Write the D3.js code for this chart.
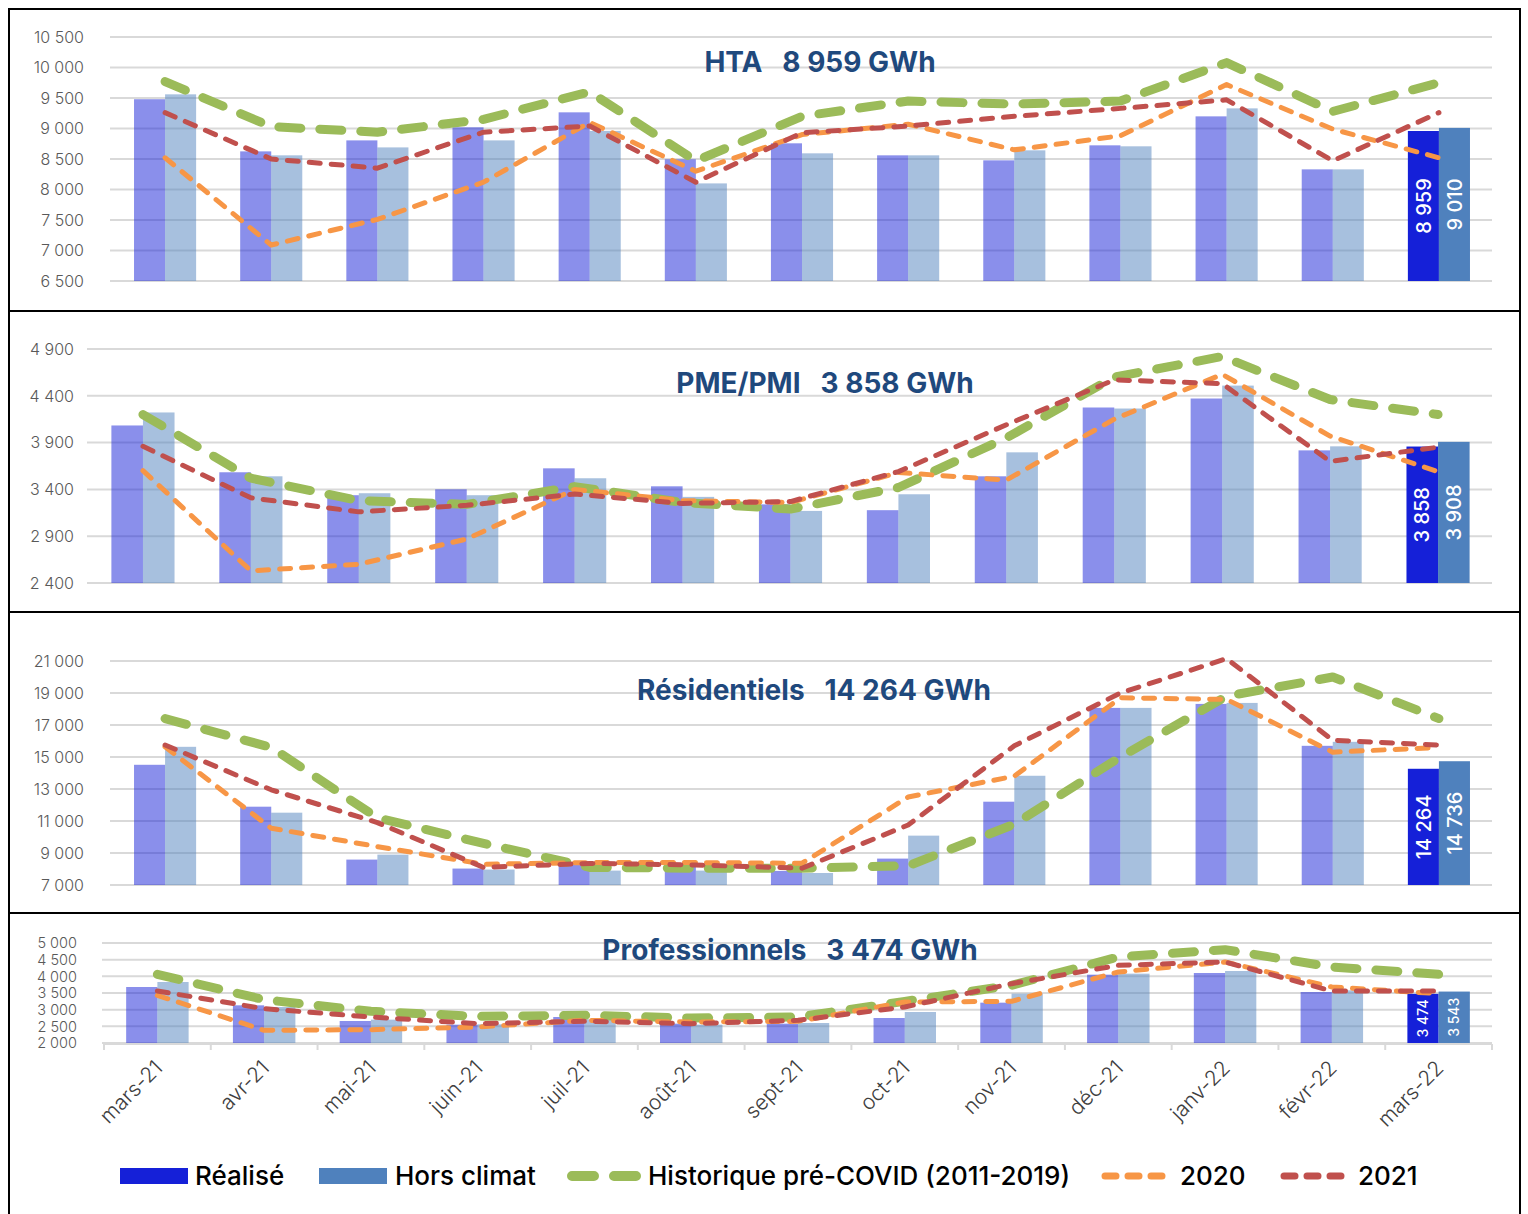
<!DOCTYPE html>
<html>
<head>
<meta charset="utf-8">
<script src="https://cdn.jsdelivr.net/npm/d3@7"></script>
<style>
  body { margin: 0; background: #fff; }
  svg { display: block; }
  text { font-family: "Inter", "Open Sans", sans-serif; }
</style>
</head>
<body>
<div id="chart"></div>
<script>
const months = ["mars-21", "avr-21", "mai-21", "juin-21", "juil-21", "août-21", "sept-21",
  "oct-21", "nov-21", "déc-21", "janv-22", "févr-22", "mars-22"];

// HTA
const htaRealise = [9480, 8625, 8805, 9020, 9265, 8495, 8757, 8560, 8478, 8724, 9199, 8330, 8959];
const htaHorsClimat = [9560, 8560, 8690, 8805, 8960, 8100, 8593, 8560, 8642, 8708, 9330, 8330, 9010];
const htaHisto = [9770, 9030, 8940, 9150, 9600, 8470, 9200, 9450, 9400, 9450, 10080, 9280, 9750];
const hta2020 = [8520, 7090, 7510, 8120, 9100, 8300, 8900, 9070, 8650, 8880, 9720, 8990, 8520];
const hta2021 = [9260, 8500, 8350, 8940, 9040, 8120, 8930, 9040, 9200, 9330, 9470, 8470, 9260];

// PME/PMI
const pmeRealise = [4083, 3583, 3338, 3401, 3625, 3433, 3240, 3178, 3540, 4275, 4371, 3817, 3858];
const pmeHorsClimat = [4222, 3540, 3359, 3338, 3519, 3320, 3170, 3348, 3796, 4264, 4509, 3860, 3908];
const pmeHisto = [4200, 3520, 3280, 3240, 3430, 3260, 3190, 3420, 3950, 4600, 4820, 4360, 4200];
const pme2020 = [3600, 2530, 2600, 2870, 3400, 3280, 3260, 3580, 3500, 4150, 4630, 3970, 3590];
const pme2021 = [3860, 3310, 3160, 3230, 3350, 3250, 3270, 3590, 4090, 4570, 4530, 3700, 3850];

// Résidentiels
const resRealise = [14513, 11894, 8588, 8027, 8250, 8200, 7880, 8650, 12206, 18069, 18318, 15699, 14264];
const resHorsClimat = [15636, 11520, 8900, 7965, 7900, 7900, 7750, 10085, 13827, 18069, 18380, 15948, 14736];
const resHisto = [17400, 15600, 11200, 9600, 8100, 8050, 8050, 8200, 10800, 15000, 18800, 20000, 17400];
const res2020 = [15636, 10550, 9400, 8300, 8400, 8400, 8360, 12500, 13800, 18700, 18600, 15300, 15600];
const res2021 = [15750, 12950, 10900, 8100, 8350, 8250, 8050, 10750, 15700, 19000, 21150, 16050, 15750];

// Professionnels
const proRealise = [3680, 3130, 2660, 2550, 2780, 2580, 2580, 2750, 3210, 4050, 4100, 3530, 3474];
const proHorsClimat = [3830, 3080, 2700, 2560, 2710, 2550, 2600, 2930, 3480, 4080, 4160, 3580, 3543];
const proHisto = [4060, 3300, 2950, 2800, 2830, 2750, 2780, 3250, 3730, 4580, 4800, 4280, 4060];
const pro2020 = [3430, 2380, 2400, 2480, 2680, 2630, 2650, 3230, 3250, 4130, 4430, 3680, 3480];
const pro2021 = [3560, 3030, 2780, 2580, 2650, 2580, 2680, 3080, 3780, 4330, 4430, 3560, 3560];

const htaTicks = d3.range(6500, 10501, 500);
const pmeTicks = [2400, 2900, 3400, 3900, 4400, 4900];
const resTicks = d3.range(7000, 21001, 2000);
const proTicks = d3.range(2000, 5001, 500);

const titles = ["HTA   8 959 GWh", "PME/PMI   3 858 GWh", "Résidentiels   14 264 GWh", "Professionnels   3 474 GWh"];
const legendNames = ["Réalisé", "Hors climat", "Historique pré-COVID (2011-2019)", "2020", "2021"];

const COLORS = {
  realise: "#1520D8",
  horsClimat: "#4F81BD",
  histo: "#9BBB59",
  y2020: "#F79646",
  y2021: "#C0504D"
};

const fr = d3.formatLocale({ decimal: ",", thousands: " ", grouping: [3], currency: ["", " €"] });
const fmt = fr.format(",d");

const width = 1528, height = 1214;
const plotRight = 1492;

const svg = d3.select("#chart").append("svg")
    .attr("width", width)
    .attr("height", height);

function makeX(left) {
  return d3.scaleBand()
      .domain(months)
      .range([left, plotRight])
      .paddingInner(0.415)
      .paddingOuter(0.2075);
}

function drawPanel(p) {
  const g = svg.append("g");
  const x = makeX(p.left);
  const xSub = d3.scaleBand()
      .domain(["realise", "horsClimat"])
      .range([0, x.bandwidth()]);

  const y = d3.scaleLinear()
      .domain([p.ticks[0], p.ticks[p.ticks.length - 1]])
      .range([p.bottom, p.top]);

  // gridlines + y labels
  g.append("g")
      .selectAll("line")
      .data(p.ticks)
      .enter()
      .append("line")
      .attr("x1", p.left - 2)
      .attr("x2", plotRight)
      .attr("y1", d => y(d))
      .attr("y2", d => y(d))
      .attr("stroke", "#D9D9D9")
      .attr("stroke-width", 2);

  g.append("g")
      .selectAll("text")
      .data(p.ticks)
      .enter()
      .append("text")
      .attr("x", p.labelX)
      .attr("y", d => y(d))
      .attr("dy", "0.36em")
      .attr("text-anchor", "end")
      .style("font-size", p.tickSize + "px")
      .style("font-weight", 300)
      .style("fill", "#595959")
      .text(d => fmt(d));

  // bars
  const rows = months.map((m, i) => ({ m, i, realise: p.realise[i], horsClimat: p.horsClimat[i] }));
  const last = months.length - 1;

  ["realise", "horsClimat"].forEach(key => {
    g.append("g")
        .selectAll("rect")
        .data(rows)
        .enter()
        .append("rect")
        .attr("x", d => x(d.m) + xSub(key))
        .attr("width", xSub.bandwidth())
        .attr("y", d => y(d[key]))
        .attr("height", d => y(p.ticks[0]) - y(d[key]))
        .attr("fill", COLORS[key])
        .attr("fill-opacity", d => d.i === last ? 1 : 0.5);
  });

  // lines
  const line = d3.line()
      .x((d, i) => x(months[i]) + x.bandwidth() / 2)
      .y(d => y(d));

  const series = [
    { values: p.histo, color: COLORS.histo, w: 9, dash: "22,19" },
    { values: p.y2020, color: COLORS.y2020, w: 5, dash: "11,11" },
    { values: p.y2021, color: COLORS.y2021, w: 5, dash: "11,11" }
  ];

  series.forEach(s => {
    g.append("path")
        .datum(s.values)
        .attr("d", line)
        .attr("fill", "none")
        .attr("stroke", s.color)
        .attr("stroke-width", s.w)
        .attr("stroke-linecap", "round")
        .attr("stroke-linejoin", "round")
        .attr("stroke-dasharray", s.dash);
  });

  // value labels on last month
  ["realise", "horsClimat"].forEach(key => {
    const v = p[key][last];
    const cx = x(months[last]) + xSub(key) + xSub.bandwidth() / 2;
    const cy = (y(v) + y(p.ticks[0])) / 2;
    g.append("text")
        .attr("transform", `translate(${cx},${cy}) rotate(-90)`)
        .attr("text-anchor", "middle")
        .attr("dy", "0.36em")
        .style("font-size", p.labelSize + "px")
        .style("font-weight", 500)
        .style("fill", "#fff")
        .text(fmt(v));
  });

  // title
  g.append("text")
      .attr("x", p.titleX)
      .attr("y", p.titleY)
      .attr("text-anchor", "middle")
      .attr("xml:space", "preserve")
      .style("white-space", "pre")
      .style("font-size", "28px")
      .style("font-weight", 700)
      .style("fill", "#1F497D")
      .text(p.title);

  return x;
}

const panels = [
  { realise: htaRealise, horsClimat: htaHorsClimat, histo: htaHisto, y2020: hta2020, y2021: hta2021,
    ticks: htaTicks, top: 37, bottom: 281, left: 112, labelX: 84, tickSize: 16,
    title: titles[0], titleX: 820, titleY: 72, labelSize: 20 },
  { realise: pmeRealise, horsClimat: pmeHorsClimat, histo: pmeHisto, y2020: pme2020, y2021: pme2021,
    ticks: pmeTicks, top: 349, bottom: 583, left: 89, labelX: 74, tickSize: 16,
    title: titles[1], titleX: 825, titleY: 393, labelSize: 20 },
  { realise: resRealise, horsClimat: resHorsClimat, histo: resHisto, y2020: res2020, y2021: res2021,
    ticks: resTicks, top: 661, bottom: 885, left: 112, labelX: 84, tickSize: 16,
    title: titles[2], titleX: 814, titleY: 700, labelSize: 20 },
  { realise: proRealise, horsClimat: proHorsClimat, histo: proHisto, y2020: pro2020, y2021: pro2021,
    ticks: proTicks, top: 943, bottom: 1043, left: 104, labelX: 77, tickSize: 14.5,
    title: titles[3], titleX: 790, titleY: 960, labelSize: 14 }
];

let xLast;
panels.forEach(p => { xLast = drawPanel(p); });

// x axis under last panel
function x0(d) {
  return xLast(d) - xLast.step() * xLast.paddingInner() / 2;
}

const xAxis = svg.append("g");
xAxis.append("line")
    .attr("x1", xLast.range()[0])
    .attr("x2", plotRight)
    .attr("y1", 1044)
    .attr("y2", 1044)
    .attr("stroke", "#D9D9D9")
    .attr("stroke-width", 2);

xAxis.selectAll(".tick")
    .data(months.concat([null]))
    .enter()
    .append("line")
    .attr("x1", d => d ? x0(d) : plotRight)
    .attr("x2", d => d ? x0(d) : plotRight)
    .attr("y1", 1044)
    .attr("y2", 1050)
    .attr("stroke", "#D9D9D9")
    .attr("stroke-width", 2);

xAxis.selectAll("text")
    .data(months)
    .enter()
    .append("text")
    .attr("transform", d => `translate(${xLast(d) + xLast.bandwidth() / 2 + 1},${1064}) rotate(-45)`)
    .attr("text-anchor", "end")
    .attr("dy", "0.36em")
    .style("font-size", "21px")
    .style("font-weight", 300)
    .style("fill", "#404040")
    .text(d => d);

// frames
svg.append("rect")
    .attr("x", 9)
    .attr("y", 9)
    .attr("width", 1511)
    .attr("height", 1215)
    .attr("fill", "none")
    .attr("stroke", "#000")
    .attr("stroke-width", 2);

[311, 612, 913].forEach(yy => {
  svg.append("line")
      .attr("x1", 9)
      .attr("x2", 1520)
      .attr("y1", yy)
      .attr("y2", yy)
      .attr("stroke", "#000")
      .attr("stroke-width", 2);
});

// legend
const legend = svg.append("g");
const legendY = 1176;

legend.append("rect").attr("x", 120).attr("y", legendY - 8).attr("width", 68).attr("height", 16)
    .attr("fill", COLORS.realise);
legend.append("rect").attr("x", 319).attr("y", legendY - 8).attr("width", 68).attr("height", 16)
    .attr("fill", COLORS.horsClimat);

[
  { x1: 572, x2: 638, color: COLORS.histo, w: 10, dash: "22,20" },
  { x1: 1105, x2: 1163, color: COLORS.y2020, w: 7, dash: "11,12" },
  { x1: 1284, x2: 1342, color: COLORS.y2021, w: 7, dash: "11,12" }
].forEach(s => {
  legend.append("line")
      .attr("x1", s.x1)
      .attr("x2", s.x2)
      .attr("y1", legendY)
      .attr("y2", legendY)
      .attr("stroke", s.color)
      .attr("stroke-width", s.w)
      .attr("stroke-linecap", "round")
      .attr("stroke-dasharray", s.dash);
});

const legendX = [195, 395, 648, 1180, 1358];
legend.selectAll("text")
    .data(legendNames)
    .enter()
    .append("text")
    .attr("x", (d, i) => legendX[i])
    .attr("y", legendY)
    .attr("dy", "0.36em")
    .style("font-size", "26px")
    .style("font-weight", 500)
    .style("fill", "#000")
    .text(d => d);
</script>
</body>
</html>
